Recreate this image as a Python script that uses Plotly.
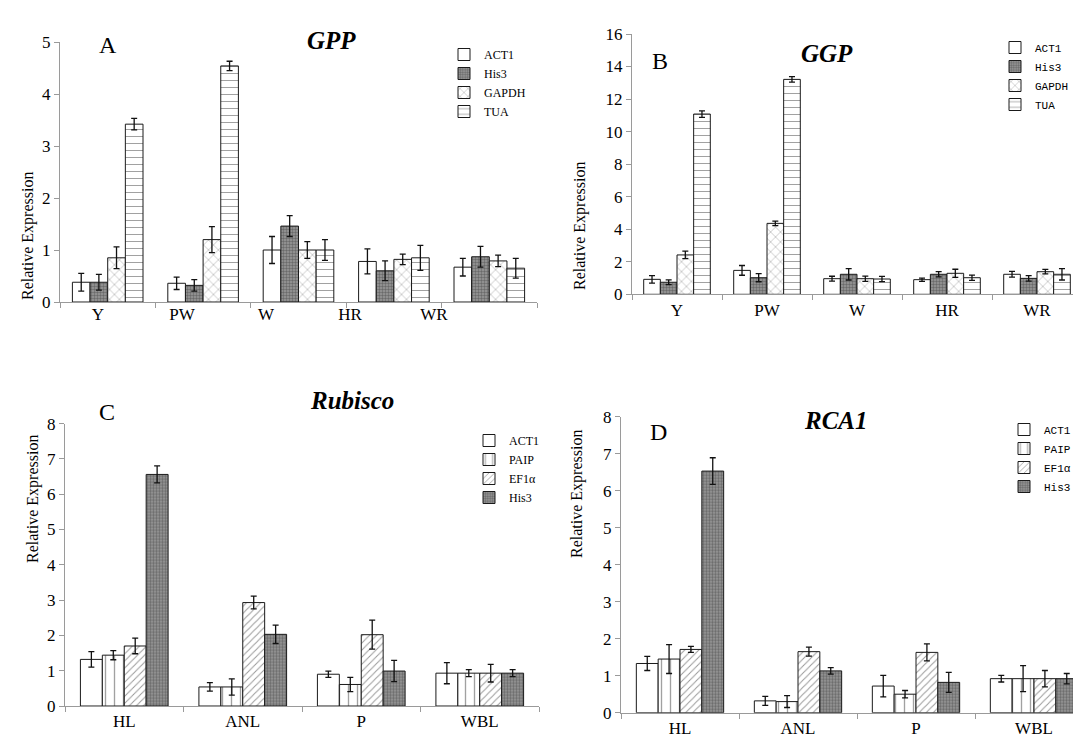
import plotly.graph_objects as go

# the page body has an 8px margin, so the figure is drawn 8px smaller
# and every reference pixel position is shifted by that offset
OFF = 8
W, H = 1081 - OFF, 744 - OFF

# ---------------- data ----------------
cats_ab = ["Y", "PW", "W", "HR", "WR"]
cats_cd = ["HL", "ANL", "P", "WBL"]
genes_ab = ["ACT1", "His3", "GAPDH", "TUA"]
genes_cd = ["ACT1", "PAIP", "EF1α", "His3"]

gpp_act1 = [0.38, 0.36, 1.00, 0.78, 0.67]
gpp_act1_err = [0.17, 0.12, 0.26, 0.24, 0.17]
gpp_his3 = [0.38, 0.32, 1.46, 0.60, 0.87]
gpp_his3_err = [0.15, 0.11, 0.20, 0.19, 0.20]
gpp_gapdh = [0.85, 1.20, 1.00, 0.82, 0.79]
gpp_gapdh_err = [0.21, 0.25, 0.16, 0.10, 0.11]
gpp_tua = [3.42, 4.54, 1.00, 0.85, 0.65]
gpp_tua_err = [0.11, 0.09, 0.20, 0.24, 0.19]

ggp_act1 = [0.92, 1.47, 0.96, 0.90, 1.23]
ggp_act1_err = [0.23, 0.30, 0.15, 0.10, 0.18]
ggp_his3 = [0.74, 1.02, 1.23, 1.23, 0.98]
ggp_his3_err = [0.15, 0.25, 0.35, 0.16, 0.17]
ggp_gapdh = [2.42, 4.36, 0.96, 1.29, 1.39]
ggp_gapdh_err = [0.23, 0.14, 0.16, 0.25, 0.14]
ggp_tua = [11.08, 13.21, 0.94, 1.02, 1.23]
ggp_tua_err = [0.20, 0.17, 0.16, 0.16, 0.35]

rub_act1 = [1.32, 0.54, 0.90, 0.93]
rub_act1_err = [0.22, 0.12, 0.09, 0.30]
rub_paip = [1.44, 0.54, 0.61, 0.93]
rub_paip_err = [0.13, 0.23, 0.20, 0.10]
rub_ef1a = [1.70, 2.93, 2.02, 0.93]
rub_ef1a_err = [0.22, 0.18, 0.41, 0.25]
rub_his3 = [6.56, 2.03, 0.99, 0.93]
rub_his3_err = [0.24, 0.26, 0.30, 0.10]

rca_act1 = [1.33, 0.32, 0.72, 0.92]
rca_act1_err = [0.19, 0.12, 0.29, 0.09]
rca_paip = [1.45, 0.30, 0.50, 0.92]
rca_paip_err = [0.39, 0.16, 0.10, 0.35]
rca_ef1a = [1.71, 1.65, 1.63, 0.92]
rca_ef1a_err = [0.08, 0.12, 0.23, 0.22]
rca_his3 = [6.53, 1.13, 0.82, 0.92]
rca_his3_err = [0.36, 0.09, 0.27, 0.14]

# ---------------- styles ----------------
SERIF = "Liberation Serif"
MONO = "Liberation Mono"

styles = {
    "ACT1": dict(color="white", pattern=dict(shape="")),
    "His3": dict(color="#9a9a9a", pattern=dict(shape=".", size=3, solidity=0.5,
                                               fgcolor="#3a3a3a", fillmode="overlay")),
    "GAPDH": dict(color="white", pattern=dict(shape="x", size=7, solidity=0.15,
                                              fgcolor="#444444", fillmode="overlay")),
    "TUA": dict(color="white", pattern=dict(shape="-", size=7, solidity=0.15,
                                            fgcolor="#444444", fillmode="overlay")),
    "PAIP": dict(color="white", pattern=dict(shape="|", size=9, solidity=0.15,
                                             fgcolor="#444444", fillmode="overlay")),
    "EF1α": dict(color="white", pattern=dict(shape="/", size=5, solidity=0.2,
                                             fgcolor="#333333", fillmode="overlay")),
}


def px_x(p):
    return (p - OFF) / W


def px_y(p):
    return 1 - (p - OFF) / H


fig = go.Figure()


def add_panel(cats, genes, vals, errs, xa, ya, legend):
    for g, v, e in zip(genes, vals, errs):
        st = styles[g]
        fig.add_trace(go.Bar(
            x=cats, y=v, name=g, xaxis=xa, yaxis=ya, legend=legend,
            marker=dict(color=st["color"], pattern=st["pattern"],
                        line=dict(color="#1a1a1a", width=1)),
            error_y=dict(type="data", array=e, color="#111111", thickness=1.3, width=3),
        ))


add_panel(cats_ab, genes_ab, [gpp_act1, gpp_his3, gpp_gapdh, gpp_tua],
          [gpp_act1_err, gpp_his3_err, gpp_gapdh_err, gpp_tua_err], "x", "y", "legend")
add_panel(cats_ab, genes_ab, [ggp_act1, ggp_his3, ggp_gapdh, ggp_tua],
          [ggp_act1_err, ggp_his3_err, ggp_gapdh_err, ggp_tua_err], "x2", "y2", "legend2")
add_panel(cats_cd, genes_cd, [rub_act1, rub_paip, rub_ef1a, rub_his3],
          [rub_act1_err, rub_paip_err, rub_ef1a_err, rub_his3_err], "x3", "y3", "legend3")
add_panel(cats_cd, genes_cd, [rca_act1, rca_paip, rca_ef1a, rca_his3],
          [rca_act1_err, rca_paip_err, rca_ef1a_err, rca_his3_err], "x4", "y4", "legend4")

axis_line = "#9a9a9a"


def xax(domain, anchor, rng, showlabels=True):
    return dict(domain=domain, anchor=anchor, type="category", range=rng,
                showline=True, linecolor=axis_line, linewidth=1, automargin=False,
                ticks="outside", tickson="boundaries", ticklen=5, tickcolor=axis_line,
                showticklabels=showlabels,
                tickfont=dict(family=SERIF, size=17, color="black"),
                showgrid=False, zeroline=False, fixedrange=True)


def yax(domain, anchor, rng, dtick):
    return dict(domain=domain, anchor=anchor, range=rng, dtick=dtick,
                showline=True, linecolor=axis_line, linewidth=1, automargin=False,
                ticks="outside", ticklen=5, tickcolor=axis_line,
                tickfont=dict(family=SERIF, size=17, color="black"),
                showgrid=False, zeroline=False, fixedrange=True)


legend_common = dict(bgcolor="rgba(0,0,0,0)", borderwidth=0, itemwidth=30,
                     xanchor="left", yanchor="top", tracegroupgap=0,
                     itemclick=False, itemdoubleclick=False)

# right edge of B and D panels is cut by the image edge in the reference
x2_end = (1081 - 632) / 90.0 - 0.5
x4_end = (1081 - 621) / 118.0 - 0.5

fig.update_layout(
    width=W, height=H, margin=dict(l=0, r=0, t=0, b=0, pad=0, autoexpand=False),
    paper_bgcolor="white", plot_bgcolor="white",
    barmode="group", bargap=0.26, bargroupgap=0,
    showlegend=True,
    xaxis=xax([px_x(60), px_x(537)], "y", [-0.5, 4.5], showlabels=False),
    yaxis=yax([px_y(302), px_y(42)], "x", [0, 5], 1),
    # overlay label axis for panel A (labels are offset in the original)
    xaxis5=dict(domain=[px_x(60), px_x(537)], anchor="y", overlaying="x",
                type="category", range=[-0.452, 5.226], showline=False, ticks="",
                automargin=False,
                tickmode="array", tickvals=cats_ab, ticktext=cats_ab,
                categoryarray=cats_ab, categoryorder="array",
                tickfont=dict(family=SERIF, size=17, color="black"),
                showgrid=False, zeroline=False, fixedrange=True, side="bottom"),
    xaxis2=xax([px_x(632), 1.0], "y2", [-0.5, x2_end]),
    yaxis2=yax([px_y(294.3), px_y(34)], "x2", [0, 16], 2),
    xaxis3=xax([px_x(65), px_x(539)], "y3", [-0.5, 3.5]),
    yaxis3=yax([px_y(706), px_y(423.6)], "x3", [0, 8], 1),
    xaxis4=xax([px_x(621), 1.0], "y4", [-0.5, x4_end]),
    yaxis4=yax([px_y(712.7), px_y(416.7)], "x4", [0, 8], 1),
    legend=dict(x=px_x(444), y=px_y(40), font=dict(family=SERIF, size=12, color="black"),
                **legend_common),
    legend2=dict(x=px_x(995), y=px_y(33), font=dict(family=MONO, size=11, color="black"),
                 **legend_common),
    legend3=dict(x=px_x(469), y=px_y(426), font=dict(family=SERIF, size=12, color="black"),
                 **legend_common),
    legend4=dict(x=px_x(1004), y=px_y(415), font=dict(family=MONO, size=11, color="black"),
                 **legend_common),
)

# invisible trace to activate the overlay label axis
fig.add_trace(go.Scatter(x=cats_ab, y=[0] * len(cats_ab), xaxis="x5", yaxis="y",
                         mode="markers", marker=dict(opacity=0), showlegend=False,
                         hoverinfo="skip"))

ann = []
titles = [("<b><i>GPP</i></b>", 305, 25), ("<b><i>GGP</i></b>", 855, 38),
          ("<b><i>Rubisco</i></b>", 308, 400), ("<b><i>RCA1</i></b>", 870, 420)]
for t, x, y in titles:
    ann.append(dict(text=t, x=px_x(x), y=px_y(y), xref="paper", yref="paper",
                    showarrow=False, font=dict(family=SERIF, size=25, color="black")))
letters = [("A", 97, 30), ("B", 660, 46), ("C", 97, 412), ("D", 658, 432)]
for t, x, y in letters:
    ann.append(dict(text=t, x=px_x(x), y=px_y(y), xref="paper", yref="paper",
                    showarrow=False, font=dict(family=SERIF, size=24, color="black")))
ytitles = [(17, 170), (580, 160), (22, 565), (577, 560)]
for x, y in ytitles:
    ann.append(dict(text="Relative Expression", x=px_x(x), y=px_y(y), xref="paper",
                    yref="paper", showarrow=False, textangle=-90,
                    font=dict(family=SERIF, size=16, color="black")))
fig.update_layout(annotations=ann)

fig.write_html("out.html")
